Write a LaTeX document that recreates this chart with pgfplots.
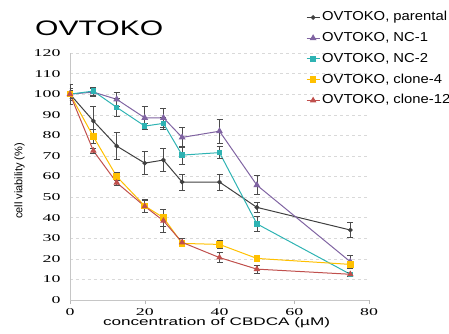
\documentclass[border=0pt]{standalone}
\usepackage{fontspec}
\setmainfont{Liberation Sans}
\newfontfamily\tickfont{Liberation Serif}
\usepackage{graphicx}
\usepackage{pgfplots}
\usepackage{pgfplotstable}
\pgfplotsset{compat=1.18}
\definecolor{cpar}{HTML}{404040}
\definecolor{cnc1}{HTML}{8064A2}
\definecolor{cnc2}{HTML}{2EB3B3}
\definecolor{ccl4}{HTML}{FFC000}
\definecolor{ccl12}{HTML}{C0504D}
\newcommand{\leg}[1]{\scalebox{1.14}[1]{#1}}
\pgfplotstableread{
x y e
0 100 5
6.25 87 7
12.5 74.8 6.5
20 66.5 5.5
25 68 5.5
30 57.3 4
40 57.3 4
50 45 2.5
75 34 3.6
}\parental
\pgfplotstableread{
x y e
0 100 3
6.25 101 2
12.5 97.5 3.5
20 88.5 5.5
25 88.5 4.5
30 79 5
40 82 6
50 55.8 4.6
75 18.6 3
}\ncone
\pgfplotstableread{
x y e
0 100 2
6.25 101.5 2
12.5 93.6 4.5
20 84.5 1.5
25 85.8 3
30 70.4 4.5
40 71.6 3
50 37 3.6
75 12.5 1
}\nctwo
\pgfplotstableread{
x y e
0 100 2
6.25 79.4 3.5
12.5 60 2
20 45.7 3
25 40 4
30 27.5 1.5
40 27 2
50 20.2 1
75 17.3 1.5
}\clfour
\pgfplotstableread{
x y e
0 100 2
6.25 72.5 1
12.5 57 1.5
20 45.5 3
25 38.5 5.5
30 28 2
40 20.6 2.5
50 15 2
75 12.5 1
}\cltwelve
\begin{document}
\begin{tikzpicture}
\path[use as bounding box] (-70pt,-34pt) rectangle (379pt,300pt);
\begin{axis}[
  at={(0,0)}, anchor=south west,
  scale only axis, width=299pt, height=247pt,
  xmin=0, xmax=80, ymin=0, ymax=120,
  xtick={0,20,40,60,80}, ytick={0,10,...,120},
  axis x line=bottom, axis y line=left,
  axis line style={draw=gray!45, -},
  ymajorgrids, grid style={dashed, gray!30},
  xtick style={draw=gray!55}, ytick style={draw=none},
  tick align=outside, major tick length=4pt,
  /pgf/number format/assume math mode=true,
  tick label style={font=\fontsize{10.5}{11}\tickfont},
  xticklabel={\scalebox{1.7}[1]{\pgfmathprintnumber{\tick}}},
  yticklabel={\scalebox{1.7}[1]{\pgfmathprintnumber{\tick}}},
  yticklabel style={xshift=-2pt},
  xticklabel style={inner sep=0pt, yshift=-4pt},
  xlabel={\resizebox{227pt}{\height}{concentration of CBDCA (µM)}},
  xlabel style={font=\fontsize{11}{12}\selectfont, inner sep=0.5pt, at={(axis description cs:0.49,-0.093)}, anchor=center},
  ylabel={cell viability (\%)},
  ylabel style={font=\fontsize{11}{12}\selectfont, at={(axis description cs:-0.169,0.482)}, anchor=center},
  legend style={at={(axis description cs:0.779,1.1777)}, anchor=north west, draw=none, fill=none,
    font=\fontsize{13}{13}\selectfont, row sep=8.45pt, column sep=2pt,
    nodes={inner sep=0pt, text height=9.5pt, text depth=2.8pt}},
  legend cell align=left,
  legend image code/.code={\draw[mark repeat=2,mark phase=2,#1] plot coordinates {(0pt,0pt) (6.5pt,0pt) (13pt,0pt)};},
  error bars/y dir=both, error bars/y explicit,
  error bars/error bar style={draw=black!70, line width=0.6pt, solid},
  error bars/error mark options={rotate=90, mark size=3pt, draw=black!70, line width=0.6pt},
  every axis plot/.append style={line width=1pt},
]
\addplot[cpar, mark=*, mark size=1.8pt] table[x=x, y=y, y error=e] {\parental};
\addlegendentry{\leg{OVTOKO, parental}}
\addplot[cnc1, mark=triangle*, mark size=3pt] table[x=x, y=y, y error=e] {\ncone};
\addlegendentry{\leg{OVTOKO, NC-1}}
\addplot[cnc2, mark=square*, mark size=2.2pt] table[x=x, y=y, y error=e] {\nctwo};
\addlegendentry{\leg{OVTOKO, NC-2}}
\addplot[ccl4, mark=square*, mark size=2.8pt] table[x=x, y=y, y error=e] {\clfour};
\addlegendentry{\leg{OVTOKO, clone-4}}
\addplot[ccl12, mark=triangle*, mark size=2.8pt] table[x=x, y=y, y error=e] {\cltwelve};
\addlegendentry{\leg{OVTOKO, clone-12}}
\end{axis}
\node[anchor=base west, inner sep=0pt] at (-35pt,264pt) {\resizebox{128pt}{\height}{\fontsize{21}{21}\selectfont OVTOKO}};
\end{tikzpicture}
\end{document}
